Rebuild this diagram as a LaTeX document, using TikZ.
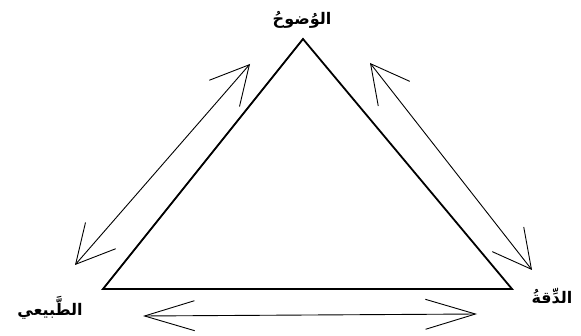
\documentclass[tikz,border=0pt]{standalone}
\usepackage{fontspec}
\newfontfamily\arabicfont[Script=Arabic]{DejaVu Sans}
\TeXXeTstate=1
\usetikzlibrary{arrows.meta}
\begin{document}
\begin{tikzpicture}[x=1pt,y=-1pt,
  tri/.style={line width=1.8pt,line join=miter},
  dblarrow/.style={line width=0.9pt,{Straight Barb[length=38pt,width=40pt,line width=0.9pt]}-{Straight Barb[length=38pt,width=40pt,line width=0.9pt]}},
  flatarrow/.style={line width=0.9pt,{Straight Barb[length=50pt,width=30pt,line width=0.9pt]}-{Straight Barb[length=50pt,width=30pt,line width=0.9pt]}},
  lbl/.style={font=\arabicfont\bfseries\fontsize{16}{18}\selectfont,inner sep=0pt}]
\useasboundingbox (0,0) rectangle (581,336);
\fill[white] (0,0) rectangle (581,336);
% triangle vertices
\coordinate (A) at (303,39);
\coordinate (B) at (103,289);
\coordinate (C) at (512,289);
\draw[tri] (A) -- (B) -- (C) -- cycle;
% arrow end points
\coordinate (l1) at (75,265);
\coordinate (l2) at (250,64);
\coordinate (r1) at (370,63);
\coordinate (r2) at (532,270);
\coordinate (b1) at (143,316);
\coordinate (b2) at (477,314);
\draw[dblarrow] (l1) -- (l2);
\draw[dblarrow] (r1) -- (r2);
\draw[flatarrow] (b1) -- (b2);
% labels
\node[lbl] (top) at (302,20) {\beginR الوُضوحُ\endR};
\node[lbl] (left) at (50,308) {\beginR الطَّبيعي\endR};
\node[lbl] (right) at (552,296) {\beginR الدِّقةُ\endR};
\end{tikzpicture}
\end{document}
